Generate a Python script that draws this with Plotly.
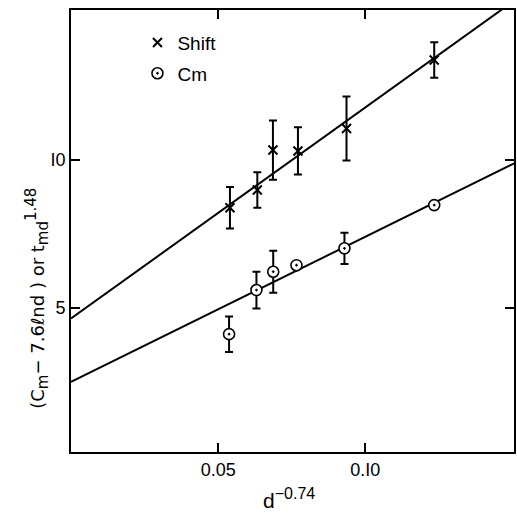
import plotly.graph_objects as go

# Data
shift_x = [0.0540, 0.0633, 0.0686, 0.0771, 0.0936, 0.1234]
shift_y = [8.38, 8.98, 10.33, 10.30, 11.06, 13.37]
shift_err = [0.70, 0.60, 1.00, 0.80, 1.08, 0.60]

cm_x = [0.0537, 0.0630, 0.0687, 0.0766, 0.0929, 0.1234]
cm_y = [4.11, 5.60, 6.22, 6.44, 7.01, 8.47]
cm_err = [0.60, 0.62, 0.71, None, 0.53, None]

# Fitted lines (intercept, slope)
shift_fit = (4.64, 71.3)
cm_fit = (2.50, 49.0)
fit_x = [0.0, 0.16]

x_tickvals = [0.05, 0.10]
x_ticktext = ["0.05", "0.I0"]
y_tickvals = [5, 10]
y_ticktext = ["5", "I0"]

FONT = "Liberation Sans"
fig = go.Figure()

for (b, m) in (shift_fit, cm_fit):
    fig.add_trace(go.Scatter(
        x=fit_x, y=[b + m * xx for xx in fit_x], mode="lines",
        line=dict(color="black", width=2), showlegend=False, hoverinfo="skip"))

# error bars (separate traces so legend stays clean)
fig.add_trace(go.Scatter(
    x=shift_x, y=shift_y, mode="markers", marker=dict(size=1, opacity=0),
    error_y=dict(type="data", array=shift_err, color="black", thickness=2, width=4),
    showlegend=False, hoverinfo="skip"))
ce = [(x, y, e) for x, y, e in zip(cm_x, cm_y, cm_err) if e is not None]
fig.add_trace(go.Scatter(
    x=[c[0] for c in ce], y=[c[1] for c in ce], mode="markers",
    marker=dict(size=1, opacity=0),
    error_y=dict(type="data", array=[c[2] for c in ce], color="black", thickness=2, width=4),
    showlegend=False, hoverinfo="skip"))

fig.add_trace(go.Scatter(
    x=shift_x, y=shift_y, mode="markers", name="Shift", legendgroup="a",
    marker=dict(symbol="x-thin", size=9, color="black",
                line=dict(color="black", width=2))))
fig.add_trace(go.Scatter(
    x=cm_x, y=cm_y, mode="markers", name="Cm", legendgroup="b",
    marker=dict(symbol="circle-dot", size=11, color="white",
                line=dict(color="black", width=1.6))))

axis_common = dict(showline=True, linecolor="black", linewidth=2, mirror="ticks",
                   ticks="inside", ticklen=9, tickwidth=2, tickcolor="black",
                   showgrid=False, zeroline=False,
                   tickfont=dict(family=FONT, size=18, color="black"))

fig.update_xaxes(range=[0, 0.1505], tickvals=x_tickvals, ticktext=x_ticktext, **axis_common)
fig.update_yaxes(range=[0.13, 15.06], tickvals=y_tickvals, ticktext=y_ticktext, **axis_common)

fig.add_annotation(
    text=("(C<sub><span style='font-size:15px'>m</span></sub>− 7.6ℓnd ) or "
          "t<sub><span style='font-size:15px'>md</span></sub>"
          "<sup><span style='font-size:15px'>1.48</span></sup>"),
    xref="paper", yref="paper", x=-0.115, y=0.348, textangle=-90,
    showarrow=False, font=dict(family="DejaVu Sans", size=18, color="black"))
fig.add_annotation(
    text="d<sup><span style='font-size:16px'>−0.74</span></sup>",
    xref="paper", yref="paper", x=0.492, y=-0.14,
    showarrow=False, font=dict(family=FONT, size=21, color="black"))

fig.update_layout(
    width=517, height=514,
    margin=dict(l=71, r=1, t=10, b=62),
    paper_bgcolor="white", plot_bgcolor="white",
    font=dict(family=FONT, color="black"),
    legend=dict(x=0.150, y=0.969, xanchor="left", yanchor="top",
                bgcolor="rgba(0,0,0,0)", font=dict(family=FONT, size=19, color="black"),
                traceorder="grouped", tracegroupgap=3),
)

fig.write_html("out.html", config={"displayModeBar": False},
               post_script="document.body.style.margin='0';")
